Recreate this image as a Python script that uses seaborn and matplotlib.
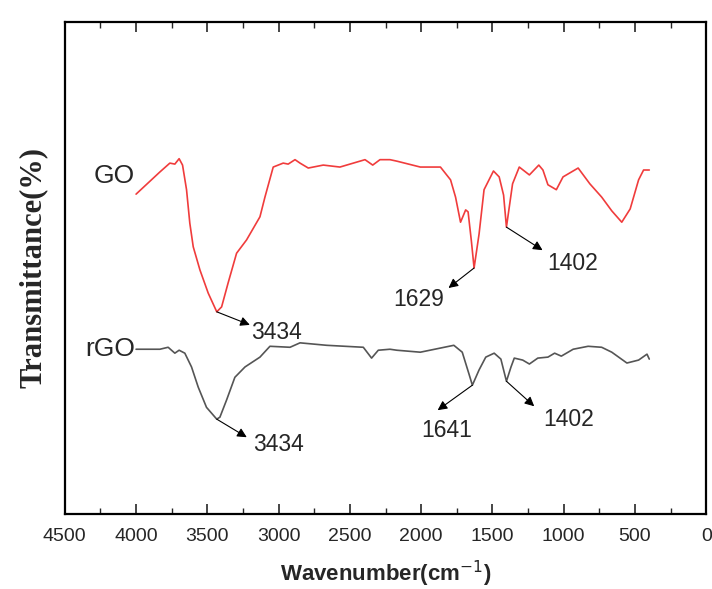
import matplotlib
matplotlib.use("Agg")
import matplotlib.pyplot as plt
from matplotlib.ticker import MultipleLocator
import seaborn as sns
import numpy as np
import pandas as pd

# FTIR spectra (transmittance in arbitrary units, offset traces)
go_wn = [4000, 3833, 3763, 3728, 3698, 3674, 3646, 3623, 3599, 3552, 3494, 3434,
         3400, 3354, 3295, 3225, 3131, 3096, 3038, 2968, 2933, 2885, 2850, 2792,
         2687, 2570, 2394, 2340, 2289, 2219, 2171, 2006, 1865, 1794, 1759, 1724,
         1688, 1671, 1648, 1629, 1594, 1559, 1493, 1453, 1422, 1402, 1359, 1312,
         1241, 1175, 1146, 1111, 1052, 1005, 899, 817, 734, 663, 593, 534, 475,
         440, 400]
go_t = [65.0, 69.5, 71.3, 71.1, 72.2, 70.9, 65.9, 59.1, 54.3, 49.6, 44.9, 41.1,
        42.1, 47.0, 53.0, 55.7, 60.4, 64.4, 70.5, 71.3, 71.1, 72.0, 71.3, 70.3,
        70.9, 70.5, 72.0, 70.9, 72.0, 72.0, 71.7, 70.5, 70.5, 67.9, 64.4, 59.3,
        61.8, 61.4, 55.5, 50.0, 56.9, 65.9, 69.7, 68.5, 64.8, 58.3, 67.1, 70.5,
        68.9, 70.9, 69.9, 66.9, 65.9, 68.5, 70.3, 67.1, 64.4, 61.6, 59.3, 62.0,
        67.9, 69.9, 69.9]

rgo_wn = [4000, 3833, 3775, 3728, 3698, 3658, 3611, 3564, 3506, 3434, 3412, 3365,
          3307, 3236, 3131, 3061, 2920, 2850, 2663, 2406, 2348, 2301, 2219, 2171,
          2006, 1771, 1712, 1665, 1641, 1594, 1547, 1488, 1441, 1402, 1370, 1347,
          1288, 1241, 1182, 1111, 1064, 1017, 934, 829, 734, 663, 557, 475, 416,
          400]
rgo_t = [33.5, 33.5, 33.9, 32.7, 33.3, 32.7, 29.9, 25.8, 21.7, 19.3, 19.7, 23.2,
         27.8, 29.9, 31.9, 34.1, 33.9, 34.8, 34.3, 33.9, 31.7, 33.3, 33.5, 33.3,
         32.9, 34.3, 32.9, 28.5, 26.2, 29.3, 31.9, 32.7, 31.5, 27.0, 29.9, 31.7,
         31.3, 30.5, 31.7, 31.9, 32.7, 32.1, 33.5, 34.1, 33.9, 32.9, 30.7, 31.3,
         32.5, 31.5]

go_peaks = [3434, 1629, 1402]
rgo_peaks = [3434, 1641, 1402]

sns.set_style("ticks")
plt.rcParams['font.family'] = ['Liberation Sans', 'DejaVu Sans']

fig, ax = plt.subplots(figsize=(7.12, 5.89), dpi=100)
fig.subplots_adjust(left=0.091, right=0.992, bottom=0.127, top=0.963)

go = pd.DataFrame({'wn': go_wn, 't': go_t})
rgo = pd.DataFrame({'wn': rgo_wn, 't': rgo_t})
sns.lineplot(data=go, x='wn', y='t', color='#f03c3c', lw=1.2, sort=False, ax=ax)
sns.lineplot(data=rgo, x='wn', y='t', color='#555555', lw=1.2, sort=False, ax=ax)

ax.set_xlim(4500, 0)
ax.set_ylim(0, 100)
ax.xaxis.set_major_locator(MultipleLocator(500))
ax.xaxis.set_minor_locator(MultipleLocator(250))
ax.set_yticks([])
ax.tick_params(axis='x', which='major', direction='in', length=7, width=1.2,
               top=True, labelsize=14, pad=10)
ax.tick_params(axis='x', which='minor', direction='in', length=4, width=1.0, top=True)
for s in ax.spines.values():
    s.set_linewidth(1.6)
    s.set_color('black')

ax.set_xlabel('Wavenumber(cm$^{-1}$)', fontsize=16, fontweight='bold', labelpad=10)
ax.set_ylabel('Transmittance(%)', fontsize=22, fontweight='bold',
              family='Liberation Serif', labelpad=12)

ax.text(4010, 68.7, 'GO', fontsize=19, ha='right', va='center')
ax.text(4010, 33.5, 'rGO', fontsize=19, ha='right', va='center')

# arrow tip and label offsets (points) relative to each peak
go_arrow = [(23.8, -9.4), (-18.4, -14.4), (26, -16.6)]
go_text = [(43, -15), (-40, -23), (47.5, -26)]
rgo_arrow = [(21.6, -13), (-25, -18), (20, -18)]
rgo_text = [(44.6, -18), (-18.7, -32.4), (44.6, -27.4)]

aprops = dict(arrowstyle='<|-', color='black', lw=0.8, mutation_scale=14,
              shrinkA=0, shrinkB=0)
for wn_list, t_list, peaks, arr, txt in [(go_wn, go_t, go_peaks, go_arrow, go_text),
                                          (rgo_wn, rgo_t, rgo_peaks, rgo_arrow, rgo_text)]:
    for p, a, t in zip(peaks, arr, txt):
        yp = np.interp(p, wn_list[::-1], t_list[::-1])
        ax.annotate('', xy=(p, yp), xytext=a, textcoords='offset points',
                    arrowprops=aprops)
        ax.annotate(str(p), xy=(p, yp), xytext=t, textcoords='offset points',
                    fontsize=16.5, ha='center', va='center')

fig.savefig('out.png', dpi=100)
